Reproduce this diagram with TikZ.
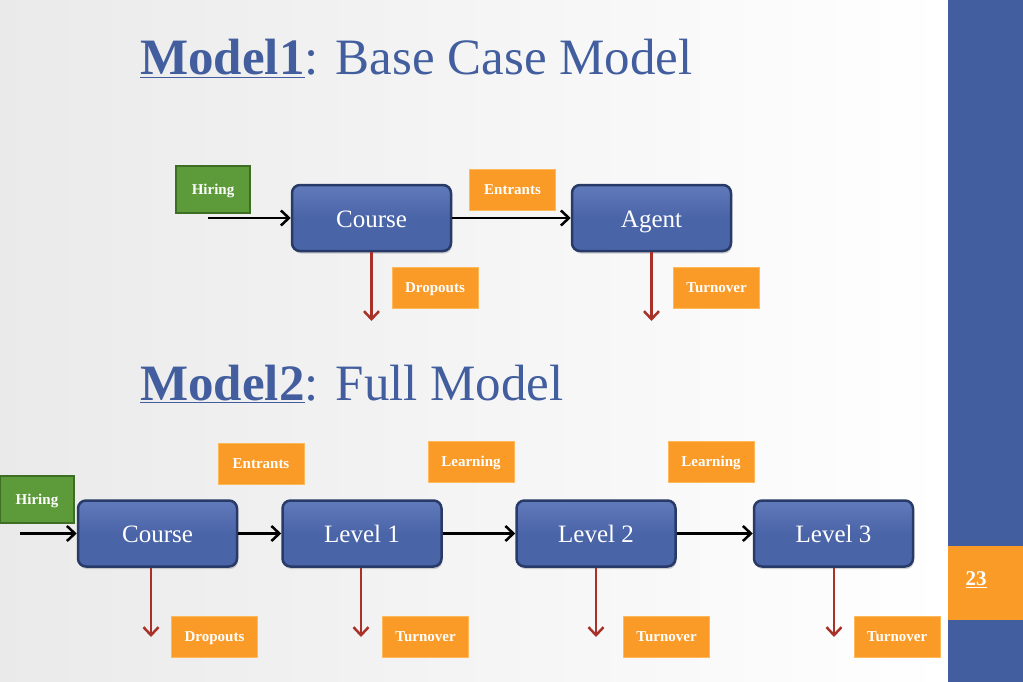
\documentclass[tikz,border=0pt]{standalone}
\usepackage{fontspec}
\setmainfont{Liberation Serif}
\usepackage{tikz}
\usetikzlibrary{arrows.meta,positioning,shadows}
\definecolor{slideblue}{RGB}{66,94,158}
\definecolor{boxblue}{RGB}{74,100,168}
\definecolor{boxtop}{RGB}{96,122,186}
\definecolor{boxedge}{RGB}{40,58,104}
\definecolor{flowred}{RGB}{168,50,40}
\definecolor{tagorange}{RGB}{250,155,40}
\definecolor{tagorangeedge}{RGB}{255,185,90}
\definecolor{hiregreen}{RGB}{92,154,58}
\definecolor{hireedge}{RGB}{62,110,36}
\definecolor{bggray}{RGB}{234,234,234}

\begin{document}
\begin{tikzpicture}[x=1pt,y=-1pt,
    stock/.style={draw=boxedge,line width=2.5pt,top color=boxtop,bottom color=boxblue,
        middle color=boxblue,rounded corners=8pt,
        minimum width=159pt,minimum height=66pt,inner sep=0pt,
        text height=19pt,text depth=1pt,
        drop shadow={opacity=0.35,shadow xshift=1pt,shadow yshift=-2.5pt},
        text=white,font=\fontsize{25}{28}\selectfont},
    tag/.style={draw=tagorangeedge,line width=0.8pt,fill=tagorange,
        minimum width=86pt,minimum height=41pt,inner sep=0pt,
        text height=11pt,text depth=2pt,
        text=white,font=\fontsize{15}{17}\selectfont\bfseries},
    hire/.style={draw=hireedge,line width=2pt,fill=hiregreen,
        minimum width=74pt,minimum height=47pt,inner sep=0pt,
        text height=11pt,text depth=2pt,
        text=white,font=\fontsize{15}{17}\selectfont\bfseries},
    flow/.style={draw=black,line width=2.5pt,-{Straight Barb[length=8pt,width=15pt,line width=2.5pt]}},
    leak/.style={draw=flowred,line width=2.5pt,-{Straight Barb[length=8pt,width=15pt,line width=2.5pt]}},
    title/.style={anchor=base west,inner sep=0pt,text=slideblue,font=\fontsize{51}{58}\selectfont}]
    % background and side bar
    \useasboundingbox (0,0) rectangle (1023,682);
    \shade[left color=bggray,right color=white] (0,0) rectangle (948,682);
    \fill[slideblue] (948,0) rectangle (1023,682);
    \fill[tagorange] (948,546) rectangle (1023,620);
    \node[text=white,font=\fontsize{21}{24}\selectfont\bfseries] (page) at (976,580) {\underline{23}};
    % titles
    \node[title] (title1) at (140,75) {\underline{\textbf{Model1}}: Base Case Model};
    \node[title] (title2) at (140,400) {\underline{\textbf{Model2}}: Full Model};
    % model 1
    \node[hire] (hire1) at (213,189.5) {Hiring};
    \node[stock] (course1) at (371.5,218) {Course};
    \node[stock] (agent1) at (651.5,218) {Agent};
    \node[tag] (entr1) at (512.5,189.5) {Entrants};
    \node[tag] (drop1) at (435,288) {Dropouts};
    \node[tag] (turn1) at (716.5,288) {Turnover};
    \coordinate (in1) at (208,218);
    \coordinate (out1) at (371.5,321);
    \coordinate (out2) at (651.5,321);
    \draw[flow] (in1) -- (course1.west);
    \draw[flow] (course1.east) -- (agent1.west);
    \draw[leak] (course1.south) -- (out1);
    \draw[leak] (agent1.south) -- (out2);
    % model 2
    \node[hire] (hire2) at (37,499.5) {Hiring};
    \node[stock] (course2) at (157.5,533.5) {Course};
    \node[stock] (lev1) at (362,533.5) {Level 1};
    \node[stock] (lev2) at (596,533.5) {Level 2};
    \node[stock] (lev3) at (833.5,533.5) {Level 3};
    \node[tag] (entr2) at (261,464) {Entrants};
    \node[tag] (learn1) at (471,461.5) {Learning};
    \node[tag] (learn2) at (711,461.5) {Learning};
    \node[tag] (drop2) at (214.5,636.5) {Dropouts};
    \node[tag] (turn2) at (425.5,636.5) {Turnover};
    \node[tag] (turn3) at (666.5,636.5) {Turnover};
    \node[tag] (turn4) at (897,636.5) {Turnover};
    \coordinate (in2) at (20,533.5);
    \coordinate (out3) at (151,637);
    \coordinate (out4) at (361,637);
    \coordinate (out5) at (596,637);
    \coordinate (out6) at (834,637);
    \draw[flow] (in2) -- (course2.west);
    \draw[flow] (course2.east) -- (lev1.west);
    \draw[flow] (lev1.east) -- (lev2.west);
    \draw[flow] (lev2.east) -- (lev3.west);
    \draw[leak] (course2.south -| out3) -- (out3);
    \draw[leak] (lev1.south -| out4) -- (out4);
    \draw[leak] (lev2.south) -- (out5);
    \draw[leak] (lev3.south -| out6) -- (out6);
\end{tikzpicture}
\end{document}
